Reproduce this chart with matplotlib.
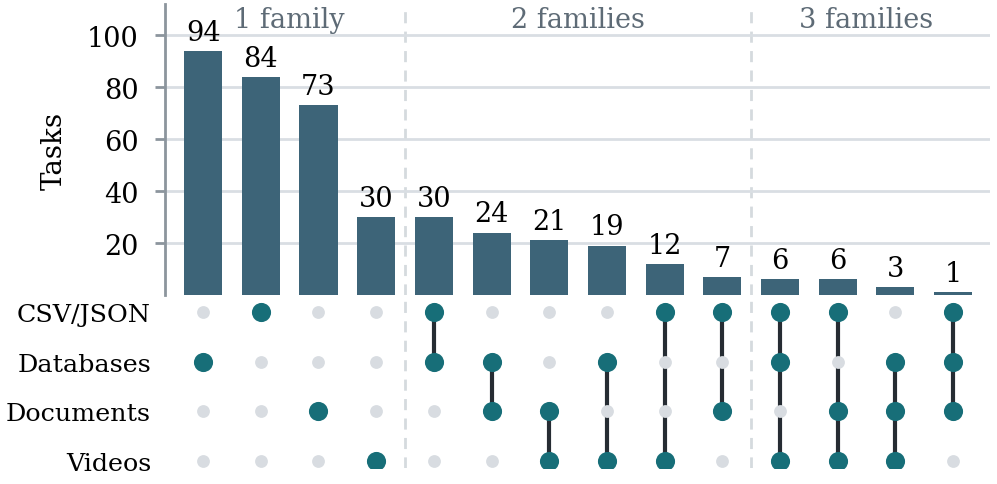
import numpy as np
import matplotlib.pyplot as plt

# ---- data ----
families = ['CSV/JSON', 'Databases', 'Documents', 'Videos']
counts = [94, 84, 73, 30, 30, 24, 21, 19, 12, 7, 6, 6, 3, 1]
# membership per column (which families are in the intersection)
members = [
    ['Databases'],
    ['CSV/JSON'],
    ['Documents'],
    ['Videos'],
    ['CSV/JSON', 'Databases'],
    ['Databases', 'Documents'],
    ['Documents', 'Videos'],
    ['Databases', 'Videos'],
    ['CSV/JSON', 'Videos'],
    ['CSV/JSON', 'Documents'],
    ['CSV/JSON', 'Databases', 'Videos'],
    ['CSV/JSON', 'Documents', 'Videos'],
    ['Databases', 'Documents', 'Videos'],
    ['CSV/JSON', 'Databases', 'Documents'],
]
group_names = ['1 family', '2 families', '3 families']
group_sizes = [4, 6, 4]

# ---- style ----
bar_col = '#3d6478'
dot_on = '#176e78'
dot_off = '#d8dce1'
link_col = '#262c33'
grid_col = '#d9dee3'
sep_col = '#d5dade'
spine_col = '#8c959d'
group_col = '#5e6b76'
fs = 19.5

plt.rcParams['font.family'] = 'DejaVu Serif'

fig = plt.figure(figsize=(9.97, 4.85), dpi=100)
ax_bar = fig.add_axes([0.1655, 0.3897, 0.8275, 0.60])
ax_mat = fig.add_axes([0.1655, 0.033, 0.8275, 0.3526])

n = len(counts)
x = np.arange(n)
xlim = (-0.66, n - 1 + 0.64)

# separators between groups
bounds = np.cumsum(group_sizes)[:-1] - 0.5

# ---- bars ----
ax_bar.bar(x, counts, width=0.66, color=bar_col, zorder=3)
for xi, c in zip(x, counts):
    ax_bar.text(xi, c + 2.0, str(c), ha='center', va='bottom', fontsize=fs, color='black')
ax_bar.set_xlim(*xlim)
ax_bar.set_ylim(0, 112)
ax_bar.set_yticks([20, 40, 60, 80, 100])
ax_bar.set_xticks([])
ax_bar.grid(True, axis='y', color=grid_col, linewidth=2, zorder=0)
for s in ['top', 'right', 'bottom']:
    ax_bar.spines[s].set_visible(False)
ax_bar.spines['left'].set_color(spine_col)
ax_bar.spines['left'].set_linewidth(2)
ax_bar.tick_params(axis='y', colors=spine_col, labelcolor='black', labelsize=fs,
                   length=7, width=2, pad=12)
ax_bar.set_ylabel('Tasks', fontsize=20, labelpad=14)
for b in bounds:
    ax_bar.axvline(b, color=sep_col, linestyle=(0, (4, 3)), linewidth=2, zorder=1)

start = 0
for name, size in zip(group_names, group_sizes):
    center = start + (size - 1) / 2
    ax_bar.text(center, 106, name, ha='center', va='center', fontsize=fs, color=group_col)
    start += size

# ---- matrix ----
row_y = {f: len(families) - 1 - i for i, f in enumerate(families)}
for xi, mem in zip(x, members):
    ys = [row_y[m] for m in mem]
    if len(ys) > 1:
        ax_mat.plot([xi, xi], [min(ys), max(ys)], color=link_col, linewidth=3, zorder=2,
                    solid_capstyle='butt')
    for f in families:
        if f in mem:
            ax_mat.scatter(xi, row_y[f], s=190, color=dot_on, zorder=4, linewidths=0)
        else:
            ax_mat.scatter(xi, row_y[f], s=85, color=dot_off, zorder=3, linewidths=0)
for b in bounds:
    ax_mat.axvline(b, color=sep_col, linestyle=(0, (4, 3)), linewidth=2, zorder=1)

ax_mat.set_xlim(*xlim)
ax_mat.set_ylim(-0.14, 3.3)
ax_mat.set_xticks([])
ax_mat.set_yticks([row_y[f] for f in families])
ax_mat.set_yticklabels(families, fontsize=18.3)
ax_mat.tick_params(axis='y', length=0, pad=10)
for s in ax_mat.spines.values():
    s.set_visible(False)

fig.savefig('out.png', dpi=100)
